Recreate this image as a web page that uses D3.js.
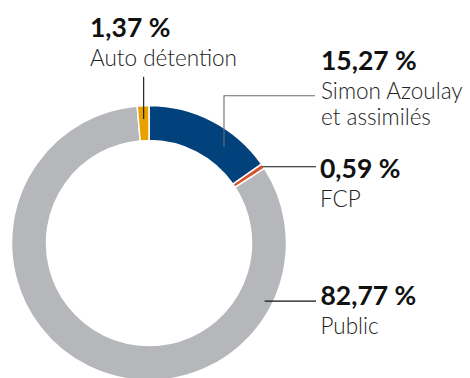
<!DOCTYPE html>
<html>
<head>
<meta charset="utf-8">
<script src="https://cdn.jsdelivr.net/npm/d3@7"></script>
<style>
  html, body { margin: 0; padding: 0; background: #fff; }
  svg { display: block; }
</style>
</head>
<body>
<svg id="chart" width="470" height="378"></svg>
<script>
// Shareholding breakdown (percent of capital)
const categories = ["Simon Azoulay et assimilés", "FCP", "Public", "Auto détention"];
const values = [15.27, 0.59, 82.77, 1.37];
const valueLabels = ["15,27 %", "0,59 %", "82,77 %", "1,37 %"];
const nameLines = [["Simon Azoulay", "et assimilés"], ["FCP"], ["Public"], ["Auto détention"]];
const colors = ["#02427c", "#d4532a", "#b6b7ba", "#e9a100"];

const svg = d3.select("#chart");
const cx = 149, cy = 243, rOuter = 137.5, rInner = 102.5;

const pie = d3.pie().sort(null).value(d => d)
  .startAngle(0).endAngle(2 * Math.PI);
const arcs = pie(values);
const arc = d3.arc().innerRadius(rInner).outerRadius(rOuter);

const g = svg.append("g").attr("transform", `translate(${cx},${cy})`);
g.selectAll("path.slice")
  .data(arcs)
  .join("path")
  .attr("class", "slice")
  .attr("d", arc)
  .attr("fill", (d, i) => colors[i])
  .attr("stroke", "#fff")
  .attr("stroke-width", 1.5);

// point on the ring at a given fraction through a slice, at radius r
function ringPoint(d, frac, r) {
  const a = d.startAngle + (d.endAngle - d.startAngle) * frac;
  return [cx + r * Math.sin(a), cy - r * Math.cos(a)];
}

const font = "Lato, 'Open Sans', sans-serif";
const labelX = 320;

// leader lines
const lines = svg.append("g").attr("fill", "none").attr("stroke-width", 1.1);

// Simon Azoulay: elbow from inside the blue slice up then right
{
  const p = ringPoint(arcs[0], 0.69, 122);
  const yTop = 95.7;
  lines.append("path")
    .attr("d", d3.line()([p, [p[0], yTop], [labelX - 5, yTop]]))
    .attr("stroke", "#6b6b6b");
}
// FCP: straight line from the slice's outer edge
{
  const p = ringPoint(arcs[1], 0.5, rOuter - 1);
  lines.append("path")
    .attr("d", d3.line()([p, [labelX - 4, p[1]]]))
    .attr("stroke", "#111");
}
// Public
{
  const p = ringPoint(arcs[2], 0.2, 129.5);
  lines.append("path")
    .attr("d", d3.line()([p, [labelX - 4, p[1]]]))
    .attr("stroke", "#111");
}
// Auto détention: vertical line from the label down into the slice
{
  const p = ringPoint(arcs[3], 0.5, 124);
  lines.append("path")
    .attr("d", d3.line()([[p[0], 76.7], p]))
    .attr("stroke", "#111");
}

// text labels
const labelPos = [
  { x: labelX + 1, y: 69.5 },
  { x: labelX, y: 177.7 },
  { x: labelX + 0.5, y: 305 },
  { x: 90, y: 36.5 }
];

labelPos.forEach((pos, i) => {
  const t = svg.append("g");
  t.append("text")
    .attr("x", pos.x).attr("y", pos.y)
    .attr("font-family", font)
    .attr("font-weight", 700)
    .attr("font-size", 26.5)
    .attr("fill", "#111")
    .text(valueLabels[i]);
  nameLines[i].forEach((s, k) => {
    t.append("text")
      .attr("x", pos.x).attr("y", pos.y + 29 + k * 26)
      .attr("font-family", font)
      .attr("font-weight", 300)
      .attr("font-size", 22.5)
      .attr("fill", "#222")
      .text(s);
  });
});
</script>
</body>
</html>
